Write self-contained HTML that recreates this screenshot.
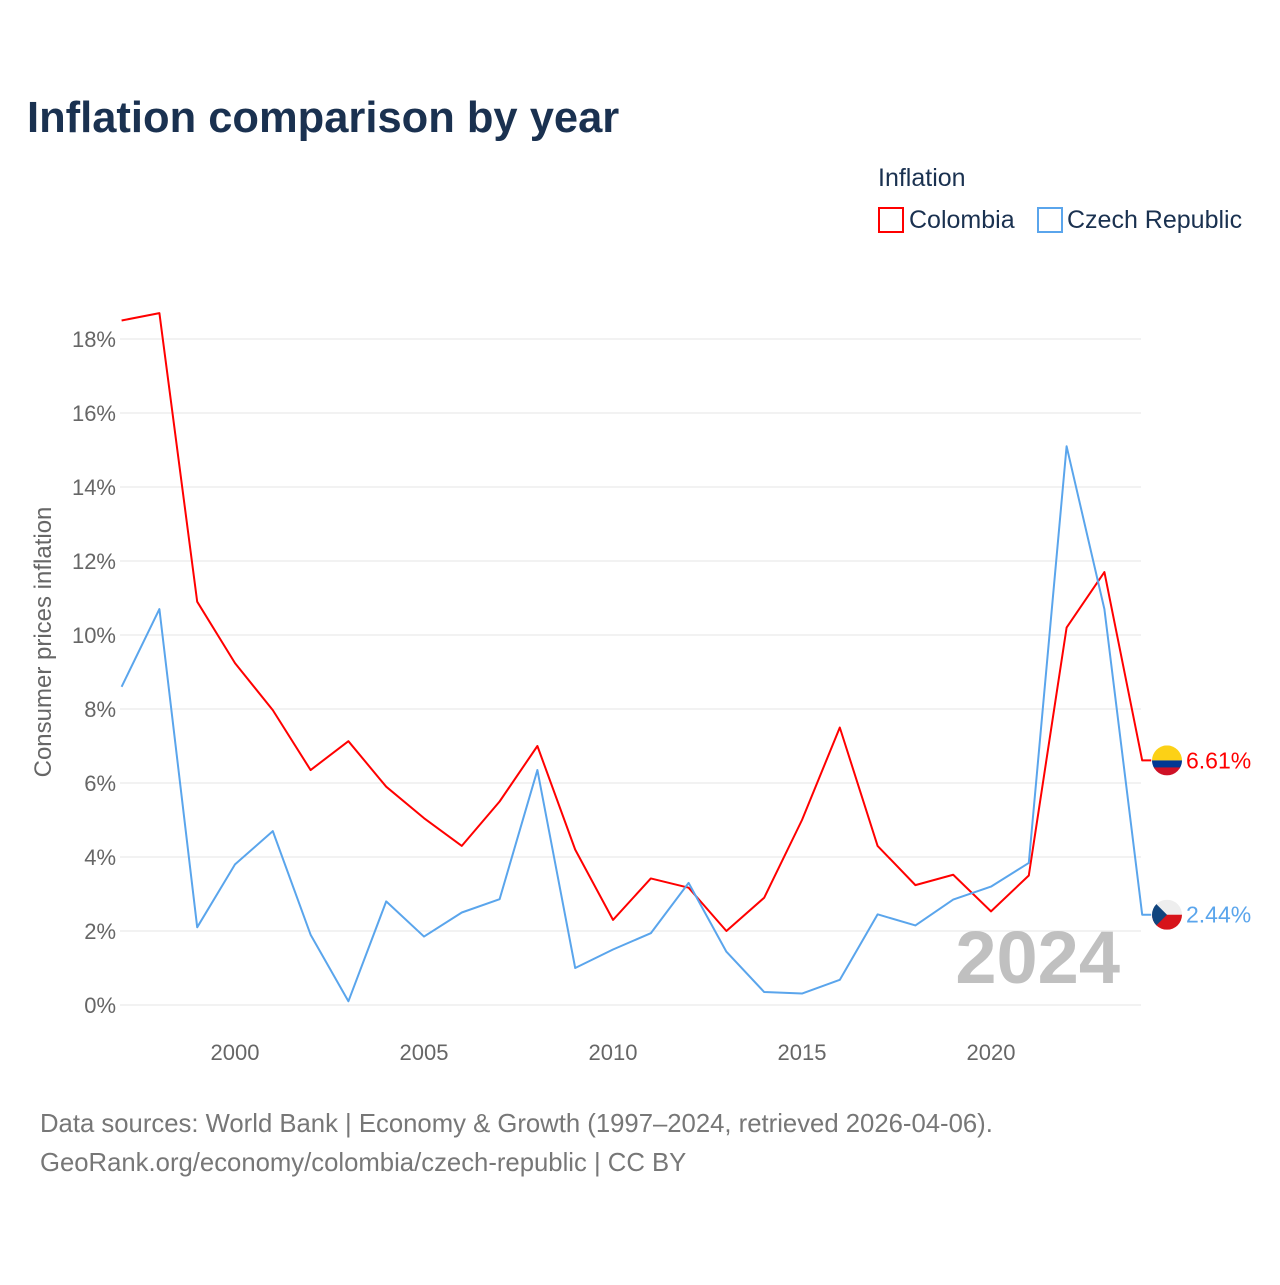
<!DOCTYPE html>
<html><head><meta charset="utf-8"><style>
body{margin:0;background:#fff;font-family:"Liberation Sans",sans-serif}
svg text{font-family:"Liberation Sans",sans-serif}
</style></head><body>
<svg id="chart" width="1280" height="1280" viewBox="0 0 1280 1280" xmlns="http://www.w3.org/2000/svg">
<text x="27" y="132" font-size="43.5" font-weight="bold" fill="#1a3150">Inflation comparison by year</text>
<text x="878" y="186" font-size="25" fill="#1a3150">Inflation</text>
<g><rect x="879" y="208" width="24" height="24" fill="none" stroke="#ff0000" stroke-width="2"/><text x="909" y="228" font-size="25" fill="#1a3150">Colombia</text></g>
<g><rect x="1038" y="208" width="24" height="24" fill="none" stroke="#5aa5ec" stroke-width="2"/><text x="1067" y="228" font-size="25" fill="#1a3150">Czech Republic</text></g>
<g id="grid"></g><g id="yticks"></g><g id="xticks"></g>
<text transform="translate(51,642) rotate(-90)" text-anchor="middle" font-size="24" fill="#666">Consumer prices inflation</text>
<text x="1120" y="983" text-anchor="end" font-size="74" font-weight="bold" fill="#c0c0c0">2024</text>
<g id="series"></g>
<text x="40" y="1132" font-size="25.7" fill="#777">Data sources: World Bank | Economy &amp; Growth (1997–2024, retrieved 2026-04-06).</text>
<text x="40" y="1171" font-size="25.7" fill="#777">GeoRank.org/economy/colombia/czech-republic | CC BY</text>
</svg>
<script>
const years=[1997,1998,1999,2000,2001,2002,2003,2004,2005,2006,2007,2008,2009,2010,2011,2012,2013,2014,2015,2016,2017,2018,2019,2020,2021,2022,2023,2024];
const colombia=[18.5,18.7,10.9,9.24,7.97,6.35,7.13,5.9,5.05,4.3,5.5,7.0,4.2,2.3,3.42,3.17,2.0,2.9,5.0,7.5,4.3,3.24,3.52,2.53,3.5,10.2,11.7,6.61];
const czech=[8.6,10.7,2.1,3.8,4.7,1.9,0.1,2.8,1.85,2.5,2.86,6.35,1.0,1.5,1.94,3.3,1.44,0.35,0.31,0.68,2.45,2.15,2.85,3.2,3.84,15.1,10.7,2.44];
const yTicks=[0,2,4,6,8,10,12,14,16,18];
const xTicks=[2000,2005,2010,2015,2020];
const NS="http://www.w3.org/2000/svg";
const X=y=>235+(y-2000)*37.8, Y=v=>1005-v*37;
function mk(t,a,p){const e=document.createElementNS(NS,t);for(const k in a)e.setAttribute(k,a[k]);document.getElementById(p).appendChild(e);return e;}
yTicks.forEach(v=>{
 const l=mk('line',{x1:120,x2:1141,y1:Y(v),y2:Y(v),stroke:'#e6e6e6','stroke-width':1},'grid');
 
 
 const t=mk('text',{x:116,y:Y(v)+8,'text-anchor':'end','font-size':22,fill:'#666'},'yticks');t.textContent=v+'%';
 
 
});
xTicks.forEach(v=>{
 const t=mk('text',{x:X(v),y:1060,'text-anchor':'middle','font-size':22,fill:'#666'},'xticks');t.textContent=v;
 
 
});
function series(vals,col,name,label,flag){
 const last=vals[vals.length-1];
 const pts=vals.map((v,i)=>X(years[i])+','+Y(v)).join(' ')+' '+(X(2024)+9)+','+Y(last);
 const p=mk('polyline',{points:pts,fill:'none',stroke:col,'stroke-width':2,'stroke-linejoin':'round'},'series');
 
 
 const g=mk('g',{},'series');
 
 
 const cx=1167,cy=Y(last);
 const cp='cp-'+name;const d=mk('clipPath',{id:cp},'series');d.appendChild(document.createElementNS(NS,'circle'));
 d.firstChild.setAttribute('cx',cx);d.firstChild.setAttribute('cy',cy);d.firstChild.setAttribute('r',15);
 flag.forEach(f=>{const r=document.createElementNS(NS,f[0]);for(const k in f[1])r.setAttribute(k,f[1][k]);r.setAttribute('clip-path','url(#'+cp+')');g.appendChild(r);});
 const t=mk('text',{x:1186,y:cy+8,'font-size':23,fill:col},'series');t.textContent=label;
 
 
}
let cyC=Y(colombia[27]),cyZ=Y(czech[27]);
series(colombia,'#ff0000','colombia',colombia[27].toFixed(2)+'%',[
 ['rect',{x:1152,y:cyC-15,width:30,height:15,fill:'#fcd116'}],
 ['rect',{x:1152,y:cyC,width:30,height:8,fill:'#003893'}],
 ['rect',{x:1152,y:cyC+7,width:30,height:8,fill:'#ce1126'}]]);
series(czech,'#5aa5ec','czech-republic',czech[27].toFixed(2)+'%',[
 ['rect',{x:1152,y:cyZ-15,width:30,height:15,fill:'#eeeeee'}],
 ['rect',{x:1152,y:cyZ,width:30,height:15,fill:'#d7141a'}],
 ['polygon',{points:`1152,${cyZ-15} 1167,${cyZ} 1152,${cyZ+15}`,fill:'#11457e'}]]);
</script>
</body></html>
